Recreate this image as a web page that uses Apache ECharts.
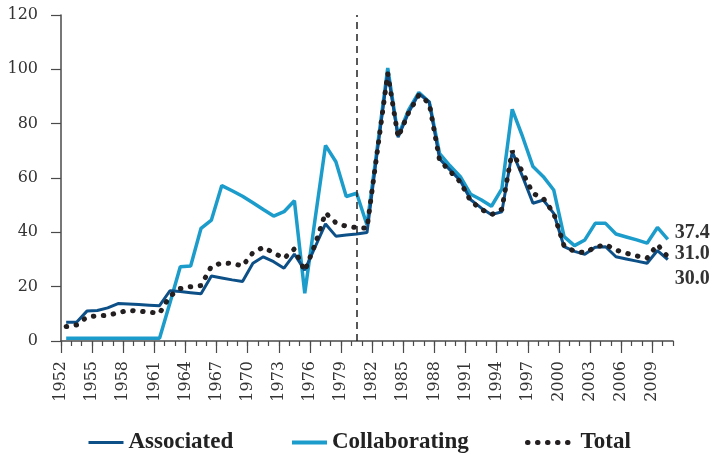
<!DOCTYPE html>
<html>
<head>
<meta charset="utf-8">
<script src="https://cdn.jsdelivr.net/npm/echarts@6/dist/echarts.min.js"></script>
<style>
  html, body { margin: 0; padding: 0; background: #fff; }
  #chart { width: 711px; height: 456px; }
</style>
</head>
<body>
<div id="chart"></div>
<script>
// one value per year, 1952 .. 2010
const years = []
for (let y = 1952; y <= 2010; y++) years.push(String(y))
// tick labels on the visible axis, 1952 .. 2011
const tickYears = years.concat(['2011'])

const associated = [
  6.9, 6.9, 11.0, 11.2, 12.2, 13.8, 13.6, 13.4, 13.2, 13.0,
  18.5, 18.2, 17.8, 17.4, 23.9, 23.2, 22.5, 21.9, 28.6, 31.0,
  29.2, 26.8, 32.0, 26.1, 34.6, 43.1, 38.6, 39.0, 39.4, 39.9,
  70.0, 99.0, 75.0, 84.0, 91.0, 88.0, 67.0, 63.0, 59.0, 52.0,
  49.0, 46.5, 47.6, 69.7, 60.5, 50.7, 51.9, 47.0, 34.7, 33.0,
  31.9, 34.5, 34.7, 31.0, 30.2, 29.4, 28.6, 33.3, 30.0
]
const collaborating = [
  1.0, 1.0, 1.0, 1.0, 1.0, 1.0, 1.0, 1.0, 1.0, 1.0,
  14.0, 27.3, 27.6, 41.5, 44.5, 57.2, 55.3, 53.3, 50.9, 48.4,
  46.0, 47.6, 51.6, 17.6, 45.0, 72.0, 66.0, 53.2, 54.4, 42.7,
  71.5, 100.5, 75.5, 85.0, 91.5, 88.0, 69.0, 64.5, 60.5, 54.0,
  52.0, 49.6, 56.0, 85.3, 75.2, 64.2, 60.5, 55.6, 38.4, 35.1,
  37.2, 43.3, 43.3, 39.4, 38.3, 37.2, 36.0, 41.8, 37.4
]
const total = [
  5.3, 5.9, 8.8, 9.3, 9.4, 10.4, 11.3, 11.0, 10.6, 10.2,
  16.5, 19.3, 20.0, 20.4, 27.5, 28.7, 28.6, 27.6, 32.5, 34.5,
  32.5, 30.4, 33.9, 25.8, 35.6, 47.2, 43.5, 42.2, 41.8, 41.5,
  70.0, 98.5, 75.0, 84.0, 90.5, 87.5, 66.5, 62.5, 58.5, 51.5,
  48.5, 46.5, 48.5, 70.0, 62.0, 54.3, 52.5, 47.0, 35.0, 33.0,
  32.5, 34.5, 35.5, 33.5, 32.3, 31.3, 30.5, 35.5, 31.0
]
const splitYear = '1980'

const DARK = '#0d4f87'
const LIGHT = '#1c9ccb'
const DOTS = '#231f20'
const AXIS = '#4a4a4a'
const SERIF = 'DejaVu Serif'
const DOT_DASH = [0.5, 9.5]

const chart = echarts.init(document.getElementById('chart'))

function endLabel(dy) {
  return {
    show: true,
    distance: 7,
    offset: [0, dy],
    formatter: p => Number(p.value).toFixed(1),
    fontFamily: 'Liberation Serif',
    fontWeight: 'bold',
    fontSize: 20,
    color: '#333'
  }
}

// one legend per entry so each sits where the original puts it
function legendItem(name, left, width, lineStyle) {
  return {
    left: left,
    top: 426,
    itemWidth: width,
    itemHeight: 14,
    textStyle: { fontFamily: 'Liberation Serif', fontWeight: 'bold', fontSize: 23, color: '#222' },
    data: [{ name: name, lineStyle: lineStyle, itemStyle: { opacity: 0 } }]
  }
}

chart.setOption({
  animation: false,
  grid: { left: 61, right: 38, top: 15, bottom: 115 },
  legend: [
    legendItem('Associated', 82, 35, { width: 3 }),
    legendItem('Collaborating', 285, 35, { width: 4 }),
    legendItem('Total', 520, 48, { width: 5, type: DOT_DASH, cap: 'round' })
  ],
  xAxis: [
    {
      type: 'category',
      position: 'bottom',
      data: tickYears,
      boundaryGap: false,
      axisLine: { lineStyle: { color: AXIS, width: 1.5 } },
      axisTick: { interval: 0, length: 5, lineStyle: { color: AXIS, width: 1.2 } },
      axisLabel: {
        interval: 2,
        rotate: 90,
        margin: 20,
        fontFamily: SERIF,
        fontSize: 16,
        color: '#333'
      },
      splitLine: { show: false }
    },
    {
      type: 'category',
      position: 'bottom',
      data: tickYears,
      boundaryGap: false,
      axisLine: { show: false },
      axisTick: { interval: 2, length: 12, lineStyle: { color: AXIS, width: 1.2 } },
      axisLabel: { show: false },
      splitLine: { show: false }
    },
    {
      type: 'category',
      position: 'bottom',
      data: years,
      boundaryGap: true,
      show: false
    }
  ],
  yAxis: {
    type: 'value',
    min: 0,
    max: 120,
    interval: 20,
    axisLine: { show: true, lineStyle: { color: AXIS, width: 1.5 } },
    axisTick: { show: true, length: 10, lineStyle: { color: AXIS, width: 1.2 } },
    axisLabel: { margin: 23, fontFamily: SERIF, fontSize: 16, color: '#333' },
    splitLine: { show: false }
  },
  series: [
    {
      name: 'Collaborating',
      type: 'line',
      xAxisIndex: 2,
      data: collaborating,
      symbol: 'none',
      lineStyle: { color: LIGHT, width: 3.5 },
      itemStyle: { color: LIGHT },
      endLabel: endLabel(-7)
    },
    {
      name: 'Associated',
      type: 'line',
      xAxisIndex: 2,
      data: associated,
      symbol: 'none',
      lineStyle: { color: DARK, width: 3 },
      itemStyle: { color: DARK },
      endLabel: endLabel(19)
    },
    {
      name: 'Total',
      type: 'line',
      xAxisIndex: 2,
      data: total,
      symbol: 'none',
      lineStyle: { color: DOTS, width: 5, type: DOT_DASH, cap: 'round' },
      itemStyle: { color: DOTS },
      endLabel: endLabel(-3),
      markLine: {
        silent: true,
        symbol: 'none',
        label: { show: false },
        lineStyle: { color: '#222', width: 1.5, type: [7, 5] },
        data: [{ xAxis: splitYear }]
      }
    }
  ]
})
</script>
</body>
</html>
